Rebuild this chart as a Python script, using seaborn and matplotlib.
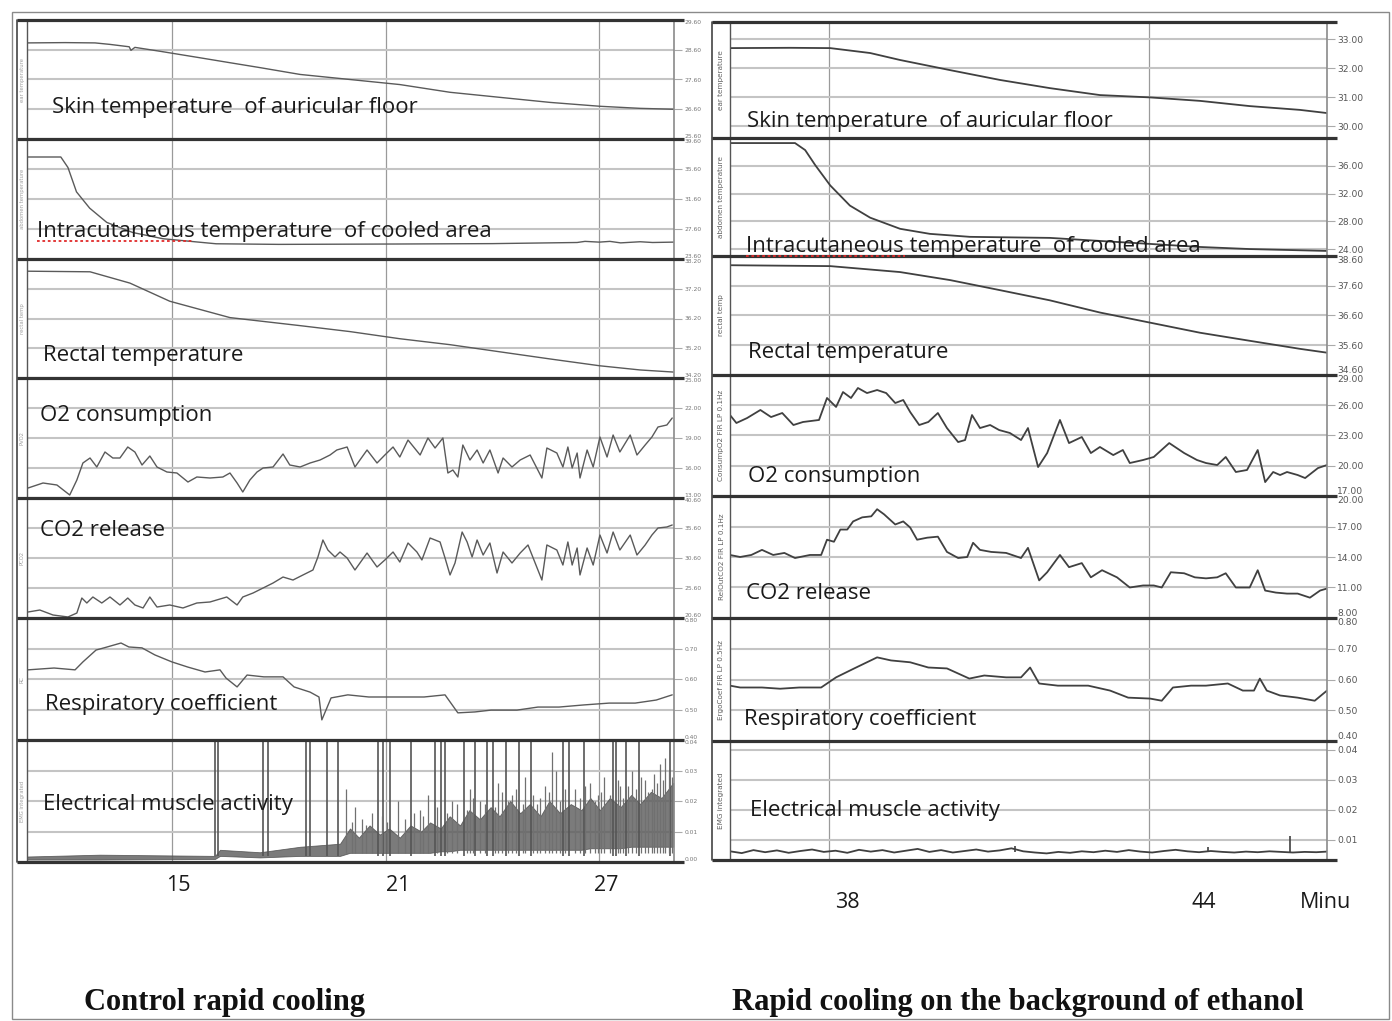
import numpy as np
import pandas as pd
import matplotlib
matplotlib.use("Agg")
import matplotlib.pyplot as plt
import matplotlib.transforms as mtransforms
from matplotlib.patches import Rectangle
import seaborn as sns

W, H = 1392, 1021

# ------------------------------------------------------------------ data
# time in minutes, value in the unit of the row
left_ear = [(10.93, 28.83), (12.0, 28.84), (12.84, 28.83), (13.26, 28.78), (13.8, 28.7),
            (13.85, 28.58), (13.96, 28.68), (14.66, 28.55), (15.79, 28.33), (16.6, 28.17),
            (17.47, 28.0), (18.6, 27.77), (20.0, 27.6), (21.4, 27.43), (22.81, 27.17),
            (24.21, 27.0), (25.62, 26.83), (27.02, 26.7), (28.15, 26.63), (29.08, 26.6)]
left_abd = [(10.93, 37.2), (11.88, 37.2), (12.08, 35.8), (12.32, 32.55), (12.69, 30.38),
            (13.17, 28.48), (13.9, 27.13), (14.75, 26.3), (16.24, 25.63), (18.0, 25.55),
            (21.4, 25.6), (24.0, 25.65), (26.38, 25.8), (26.6, 25.95), (27.0, 25.85),
            (27.3, 25.95), (27.6, 25.75), (28.15, 25.9), (28.5, 25.8), (29.08, 25.85)]
left_rect = [(10.93, 37.79), (12.7, 37.77), (13.82, 37.39), (14.94, 36.78), (16.63, 36.23),
             (18.6, 35.96), (20.0, 35.76), (21.4, 35.52), (22.81, 35.32), (24.21, 35.08),
             (25.62, 34.84), (27.02, 34.61), (28.15, 34.47), (29.08, 34.4)]
left_o2 = [(10.96, 14.0), (11.38, 14.5), (11.77, 14.3), (12.13, 13.3), (12.33, 14.8),
           (12.5, 16.5), (12.70, 17.0), (12.89, 16.1), (13.12, 17.6), (13.34, 17.0),
           (13.54, 17.0), (13.76, 18.1), (13.96, 17.6), (14.16, 16.3), (14.38, 17.2),
           (14.58, 16.1), (14.86, 15.6), (15.14, 15.5), (15.45, 14.6), (15.70, 15.1),
           (16.07, 15.0), (16.43, 15.1), (16.63, 15.5), (16.83, 14.5), (16.99, 13.6),
           (17.19, 14.8), (17.39, 15.6), (17.56, 16.0), (17.84, 16.1), (18.12, 17.4),
           (18.31, 16.3), (18.60, 16.1), (18.88, 16.5), (19.16, 16.8), (19.44, 17.3),
           (19.63, 17.8), (19.92, 18.1), (20.14, 16.1), (20.48, 17.8), (20.76, 16.5),
           (20.98, 17.3), (21.21, 18.1), (21.40, 17.1), (21.63, 18.8), (21.97, 17.3),
           (22.19, 19.0), (22.39, 18.0), (22.61, 19.0), (22.75, 15.5), (22.89, 15.8),
           (23.03, 15.1), (23.17, 18.3), (23.37, 16.8), (23.57, 17.8), (23.74, 16.5),
           (23.93, 17.8), (24.16, 15.5), (24.30, 17.0), (24.55, 16.1), (24.78, 16.8),
           (25.06, 17.3), (25.39, 15.0), (25.53, 18.0), (25.81, 17.5), (25.98, 16.1),
           (26.12, 18.1), (26.24, 16.0), (26.38, 17.5), (26.46, 15.0), (26.66, 17.8),
           (26.83, 16.1), (27.02, 19.1), (27.22, 17.1), (27.39, 19.3), (27.58, 17.6),
           (27.87, 19.3), (28.06, 17.3), (28.29, 18.3), (28.48, 19.1), (28.65, 20.1),
           (28.90, 20.3), (29.05, 21.0)]
left_co2 = [(10.96, 21.6), (11.29, 21.93), (11.66, 21.1), (12.08, 20.77), (12.33, 21.43),
            (12.47, 23.93), (12.61, 23.1), (12.78, 24.1), (13.03, 23.1), (13.26, 24.1),
            (13.54, 22.77), (13.76, 23.93), (13.96, 22.77), (14.19, 22.27), (14.38, 24.1),
            (14.58, 22.43), (14.94, 22.77), (15.31, 22.27), (15.70, 23.1), (16.07, 23.27),
            (16.54, 24.1), (16.83, 22.77), (16.99, 24.1), (17.28, 24.77), (17.56, 25.6),
            (17.84, 26.43), (18.12, 27.43), (18.40, 26.93), (18.68, 27.77), (18.96, 28.6),
            (19.10, 30.77), (19.24, 33.6), (19.38, 31.93), (19.58, 30.77), (19.72, 31.6),
            (19.92, 30.6), (20.14, 28.6), (20.48, 31.43), (20.76, 29.1), (20.98, 30.27),
            (21.21, 31.6), (21.40, 29.93), (21.63, 33.1), (21.88, 31.6), (22.02, 30.27),
            (22.25, 33.93), (22.53, 33.27), (22.67, 30.6), (22.81, 27.77), (22.95, 29.77),
            (23.15, 34.93), (23.29, 33.27), (23.43, 30.77), (23.57, 33.6), (23.74, 31.1),
            (23.93, 33.1), (24.13, 28.1), (24.30, 31.6), (24.55, 29.77), (24.78, 31.43),
            (25.0, 32.77), (25.39, 26.93), (25.53, 32.77), (25.81, 31.93), (25.98, 29.43),
            (26.12, 33.27), (26.24, 29.43), (26.38, 32.27), (26.46, 27.77), (26.66, 32.27),
            (26.83, 29.43), (27.02, 34.43), (27.22, 31.43), (27.39, 34.93), (27.58, 31.93),
            (27.87, 34.43), (28.06, 31.1), (28.29, 32.77), (28.48, 34.43), (28.65, 35.6),
            (28.90, 35.77), (29.05, 36.1)]
left_rc = [(10.96, 0.630), (11.69, 0.636), (12.28, 0.630), (12.5, 0.656), (12.87, 0.695),
           (13.09, 0.702), (13.57, 0.718), (13.79, 0.705), (14.16, 0.702), (14.52, 0.679),
           (15.0, 0.656), (15.45, 0.639), (15.93, 0.623), (16.35, 0.630), (16.52, 0.603),
           (16.83, 0.574), (17.11, 0.613), (17.58, 0.607), (18.12, 0.607), (18.43, 0.574),
           (18.88, 0.557), (19.13, 0.541), (19.21, 0.466), (19.47, 0.538), (19.94, 0.548),
           (20.53, 0.541), (21.38, 0.541), (22.08, 0.541), (22.67, 0.548), (23.03, 0.489),
           (23.51, 0.492), (23.96, 0.498), (24.69, 0.498), (25.28, 0.508), (25.87, 0.508),
           (26.57, 0.515), (27.28, 0.521), (28.01, 0.521), (28.60, 0.531), (29.05, 0.548)]
# integrated EMG: noise band (time, low, high) and spikes (time, height)
left_emg_band = [(10.93, 0.0008, 0.0018), (12.98, 0.0008, 0.0024), (16.21, 0.0010, 0.0020),
                 (16.35, 0.0020, 0.0040), (17.47, 0.0015, 0.0032), (18.6, 0.0020, 0.0050),
                 (19.72, 0.002, 0.006), (20.0, 0.003, 0.011), (20.25, 0.003, 0.008),
                 (20.55, 0.003, 0.012), (20.84, 0.003, 0.009), (21.1, 0.003, 0.011),
                 (21.4, 0.003, 0.008), (21.7, 0.003, 0.012), (22.0, 0.003, 0.010),
                 (22.25, 0.003, 0.013), (22.55, 0.0035, 0.011), (22.8, 0.0035, 0.015),
                 (23.09, 0.004, 0.012), (23.35, 0.004, 0.017), (23.65, 0.004, 0.014),
                 (23.95, 0.004, 0.018), (24.2, 0.004, 0.015), (24.5, 0.004, 0.020),
                 (24.78, 0.004, 0.016), (25.05, 0.004, 0.019), (25.35, 0.004, 0.015),
                 (25.6, 0.004, 0.020), (25.9, 0.004, 0.016), (26.2, 0.004, 0.019),
                 (26.5, 0.004, 0.017), (26.75, 0.0045, 0.021), (27.02, 0.0045, 0.017),
                 (27.3, 0.0045, 0.021), (27.6, 0.0045, 0.018), (27.9, 0.005, 0.022),
                 (28.15, 0.005, 0.019), (28.45, 0.005, 0.023), (28.75, 0.005, 0.021),
                 (29.08, 0.005, 0.026)]
left_emg_tall = [16.20, 16.30, 17.56, 17.70, 18.76, 18.88, 19.35, 19.66, 20.79, 20.93,
                 21.12, 21.71, 22.39, 22.56, 22.67, 23.20, 23.51, 23.85, 24.02, 24.38,
                 24.75, 25.08, 25.98, 26.15, 26.57, 27.39, 27.47, 27.75, 28.12, 28.99]
left_emg_mid = [(19.89, 0.024), (20.14, 0.018), (20.34, 0.014), (20.62, 0.016), (21.35, 0.020),
                (21.97, 0.017), (22.19, 0.022), (22.87, 0.020), (23.37, 0.024), (23.65, 0.020),
                (24.16, 0.026), (24.55, 0.022), (24.92, 0.028), (25.34, 0.021), (25.48, 0.025),
                (25.67, 0.036), (25.79, 0.030), (26.32, 0.024), (26.74, 0.026), (26.97, 0.022),
                (27.13, 0.028), (27.58, 0.025), (27.92, 0.030), (28.29, 0.027), (28.48, 0.024),
                (28.71, 0.032), (28.85, 0.034),
                (20.05, 0.013), (20.45, 0.012), (20.90, 0.015), (21.05, 0.013), (21.55, 0.014),
                (21.80, 0.016), (22.05, 0.015), (22.45, 0.018), (22.72, 0.016), (23.00, 0.019),
                (23.28, 0.017), (23.45, 0.021), (23.80, 0.019), (24.08, 0.018), (24.28, 0.023),
                (24.45, 0.020), (24.65, 0.024), (24.85, 0.019), (25.15, 0.022), (25.25, 0.019),
                (25.58, 0.023), (25.90, 0.020), (26.05, 0.024), (26.45, 0.021), (26.60, 0.025),
                (26.88, 0.020), (27.05, 0.023), (27.30, 0.022), (27.52, 0.027), (27.68, 0.021),
                (27.82, 0.025), (28.02, 0.024), (28.18, 0.028), (28.38, 0.023), (28.55, 0.029),
                (28.62, 0.026), (28.78, 0.027), (28.95, 0.030), (29.05, 0.028)]

right_ear = [(36.14, 32.70), (37.27, 32.71), (38.02, 32.70), (38.77, 32.53), (39.33, 32.29),
             (40.27, 31.94), (41.21, 31.6), (42.14, 31.32), (43.08, 31.08), (44.02, 31.0),
             (44.96, 30.88), (45.89, 30.7), (46.83, 30.57), (47.34, 30.46)]
right_abd = [(36.14, 39.27), (37.36, 39.27), (37.55, 38.26), (37.74, 36.08), (38.02, 33.17),
             (38.39, 30.26), (38.77, 28.52), (39.33, 26.92), (39.89, 26.19), (40.64, 25.76),
             (42.14, 25.61), (43.08, 25.17), (44.02, 24.74), (44.96, 24.3), (45.89, 24.0),
             (47.34, 23.73)]
right_rect = [(36.14, 38.29), (38.02, 38.26), (39.33, 38.06), (40.27, 37.79), (41.21, 37.45),
              (42.14, 37.11), (43.08, 36.7), (44.02, 36.36), (44.96, 36.02), (45.89, 35.75),
              (46.83, 35.48), (47.34, 35.35)]
right_o2 = [(36.14, 25.03), (36.26, 24.24), (36.46, 24.73), (36.71, 25.53), (36.91, 24.83),
            (37.12, 25.23), (37.33, 24.04), (37.51, 24.34), (37.81, 24.54), (37.96, 26.72),
            (38.13, 25.83), (38.26, 27.31), (38.41, 26.72), (38.54, 27.71), (38.71, 27.21),
            (38.90, 27.51), (39.07, 27.21), (39.24, 26.22), (39.39, 26.52), (39.52, 25.33),
            (39.69, 24.04), (39.86, 24.34), (40.04, 25.23), (40.21, 23.74), (40.42, 22.35),
            (40.55, 22.55), (40.68, 25.03), (40.83, 23.74), (41.02, 24.04), (41.19, 23.54),
            (41.39, 23.25), (41.60, 22.55), (41.73, 23.74), (41.92, 19.87), (42.09, 21.26),
            (42.22, 23.05), (42.33, 24.54), (42.50, 22.25), (42.74, 22.85), (42.91, 21.26),
            (43.08, 21.86), (43.33, 21.06), (43.51, 21.56), (43.64, 20.27), (43.89, 20.57),
            (44.09, 20.87), (44.38, 22.25), (44.66, 21.26), (44.90, 20.57), (45.07, 20.27),
            (45.28, 20.07), (45.44, 20.87), (45.63, 19.38), (45.84, 19.58), (46.04, 21.56),
            (46.18, 18.38), (46.33, 19.38), (46.46, 19.08), (46.59, 19.38), (46.79, 19.08),
            (46.93, 18.78), (47.17, 19.77), (47.34, 20.07)]
right_co2 = [(36.14, 14.2), (36.33, 14.0), (36.54, 14.2), (36.74, 14.7), (36.95, 14.2),
             (37.16, 14.4), (37.36, 13.9), (37.64, 14.2), (37.85, 14.2), (37.96, 15.7),
             (38.09, 15.5), (38.21, 16.7), (38.34, 16.7), (38.45, 17.5), (38.62, 17.9),
             (38.79, 18.0), (38.90, 18.7), (39.03, 18.2), (39.24, 17.2), (39.39, 17.5),
             (39.52, 16.9), (39.65, 15.7), (39.84, 15.9), (40.04, 16.0), (40.21, 14.5),
             (40.42, 13.9), (40.59, 14.0), (40.70, 15.4), (40.83, 14.7), (41.04, 14.5),
             (41.32, 14.4), (41.60, 13.9), (41.73, 14.9), (41.94, 11.7), (42.09, 12.5),
             (42.33, 14.2), (42.50, 13.0), (42.74, 13.4), (42.91, 12.0), (43.12, 12.7),
             (43.40, 12.0), (43.64, 11.0), (43.89, 11.2), (44.09, 11.2), (44.24, 11.0),
             (44.41, 12.5), (44.66, 12.4), (44.86, 12.0), (45.07, 11.9), (45.28, 12.0),
             (45.44, 12.4), (45.63, 11.0), (45.89, 11.0), (46.04, 12.7), (46.18, 10.7),
             (46.38, 10.5), (46.59, 10.4), (46.79, 10.4), (47.02, 10.0), (47.21, 10.7),
             (47.34, 10.9)]
right_rc = [(36.14, 0.580), (36.33, 0.574), (36.74, 0.574), (37.08, 0.570), (37.44, 0.574),
            (37.85, 0.574), (38.13, 0.607), (38.47, 0.636), (38.90, 0.672), (39.16, 0.662),
            (39.52, 0.656), (39.86, 0.639), (40.21, 0.636), (40.63, 0.603), (40.91, 0.613),
            (41.32, 0.607), (41.60, 0.607), (41.77, 0.639), (41.94, 0.587), (42.29, 0.580),
            (42.86, 0.580), (43.27, 0.564), (43.61, 0.541), (44.02, 0.538), (44.24, 0.531),
            (44.45, 0.574), (44.79, 0.580), (45.07, 0.580), (45.48, 0.587), (45.76, 0.564),
            (45.97, 0.564), (46.08, 0.603), (46.21, 0.564), (46.46, 0.548), (46.79, 0.541),
            (47.11, 0.531), (47.34, 0.564)]
right_emg = [(36.14, 0.0062), (36.36, 0.0056), (36.58, 0.0066), (36.80, 0.0059), (37.02, 0.0065),
             (37.24, 0.0057), (37.46, 0.0063), (37.68, 0.0068), (37.90, 0.0060), (38.12, 0.0064),
             (38.34, 0.0057), (38.56, 0.0067), (38.78, 0.0061), (39.00, 0.0066), (39.22, 0.0058),
             (39.44, 0.0064), (39.66, 0.0070), (39.88, 0.0060), (40.10, 0.0066), (40.32, 0.0058),
             (40.54, 0.0063), (40.76, 0.0068), (40.98, 0.0061), (41.20, 0.0065), (41.42, 0.0072),
             (41.64, 0.0062), (41.86, 0.0058), (42.08, 0.0055), (42.30, 0.0060), (42.52, 0.0057),
             (42.74, 0.0062), (42.96, 0.0059), (43.18, 0.0064), (43.40, 0.0060), (43.62, 0.0066),
             (43.84, 0.0061), (44.06, 0.0058), (44.28, 0.0063), (44.50, 0.0067), (44.72, 0.0062),
             (44.94, 0.0059), (45.16, 0.0063), (45.38, 0.0060), (45.60, 0.0058), (45.82, 0.0061),
             (46.04, 0.0059), (46.26, 0.0062), (46.48, 0.0060), (46.70, 0.0058), (46.92, 0.0060),
             (47.14, 0.0059), (47.34, 0.0061)]
right_emg_spikes = [(41.49, 0.0080), (45.10, 0.0075), (46.64, 0.0113)]

left_ylims = [(25.6, 29.6), (23.6, 39.6), (34.2, 38.2), (13.0, 25.0), (20.6, 40.6), (0.40, 0.80), (0.0, 0.04)]
left_yticks = [[25.6, 26.6, 27.6, 28.6, 29.6], [23.6, 27.6, 31.6, 35.6, 39.6],
               [34.2, 35.2, 36.2, 37.2, 38.2], [13, 16, 19, 22, 25], [20.6, 25.6, 30.6, 35.6, 40.6],
               [0.4, 0.5, 0.6, 0.7, 0.8], [0.0, 0.01, 0.02, 0.03, 0.04]]
right_ylims = [(29.6, 33.6), (23.0, 40.0), (34.6, 38.6), (17.0, 29.0), (8.0, 20.0), (0.40, 0.80), (0.0033, 0.043)]
right_yticks = [[30, 31, 32, 33], [24, 28, 32, 36], [34.6, 35.6, 36.6, 37.6, 38.6],
                [17, 20, 23, 26, 29], [8, 11, 14, 17, 20], [0.4, 0.5, 0.6, 0.7, 0.8],
                [0.01, 0.02, 0.03, 0.04]]

row_names = ["Skin temperature  of auricular floor", "Intracutaneous temperature  of cooled area",
             "Rectal temperature", "O2 consumption", "CO2 release", "Respiratory coefficient",
             "Electrical muscle activity"]
left_channels = ["ear temperature", "abdomen temperature", "rectal temp", "PVO2", "PCO2", "RC", "EMG integrated"]
right_channels = ["ear temperature", "abdomen temperature", "rectal temp", "ConsumpO2 FIR LP 0.1Hz",
                  "RelOutCO2 FIR LP 0.1Hz", "ErgoCoef FIR LP 0.5Hz", "EMG integrated"]
left_grid_times = [15, 21, 27]
left_tick_labels = ["15", "21", "27"]
left_tick_pos = [15.17, 21.35, 27.19]
right_grid_times = [38, 44]
right_tick_labels = ["38", "44", "Minu"]
right_tick_pos = [38.34, 45.03, 47.32]
titles = ["Control rapid cooling", "Rapid cooling on the background of ethanol"]

# ------------------------------------------------------------------ style
sns.set_theme(style="white")
plt.rcParams['font.family'] = ['Open Sans', 'DejaVu Sans']

fig = plt.figure(figsize=(W / 100, H / 100), dpi=100)
fig.patch.set_facecolor("white")


def rect(x0, y0, x1, y1):
    return [x0 / W, 1 - y1 / H, (x1 - x0) / W, (y1 - y0) / H]


def frame(pairs):
    return pd.DataFrame(pairs, columns=["t", "v"])


panels = [
    dict(x0=27, x1=674, strip=17, rows=[20, 139, 259, 378, 498, 618, 740, 862], xlim=(10.93, 29.10),
         grid=left_grid_times, ylims=left_ylims, yticks=left_yticks, channels=left_channels,
         series=[left_ear, left_abd, left_rect, left_o2, left_co2, left_rc, None],
         tsize=4.3, tcolor="#777777", lcolor="#5a5a5a", lw=1.0, chsize=3.8, chcolor="#a0a0a0",
         texts=[(52, 107), (37, 231), (43, 355), (40, 415), (40, 530), (45, 704), (43, 804)],
         ticklab=(left_tick_labels, left_tick_pos, 885), squig=(37, 193, 241)),
    dict(x0=730, x1=1327, strip=712, rows=[22, 138, 256, 375, 496, 618, 741, 860], xlim=(36.14, 47.34),
         grid=right_grid_times, ylims=right_ylims, yticks=right_yticks, channels=right_channels,
         series=[right_ear, right_abd, right_rect, right_o2, right_co2, right_rc, right_emg],
         tsize=6.6, tcolor="#555555", lcolor="#404040", lw=1.3, chsize=5.2, chcolor="#606060",
         texts=[(747, 121), (746, 246), (748, 352), (748, 476), (746, 593), (744, 719), (750, 810)],
         ticklab=(right_tick_labels, right_tick_pos, 902), squig=(746, 905, 256)),
]

for pi, P in enumerate(panels):
    rows = P["rows"]
    for i in range(7):
        ax = fig.add_axes(rect(P["x0"], rows[i], P["x1"], rows[i + 1]))
        ax.patch.set_alpha(0)
        ylo, yhi = P["ylims"][i]
        data = P["series"][i]
        if data is not None:
            sns.lineplot(data=frame(data), x="t", y="v", ax=ax, color=P["lcolor"], linewidth=P["lw"],
                         estimator=None, sort=False, legend=False)
        if pi == 0 and i == 6:
            band = pd.DataFrame(left_emg_band, columns=["t", "lo", "hi"])
            ax.fill_between(band["t"], band["lo"], band["hi"], color="#5a5a5a", lw=0.6,
                            edgecolor="#4a4a4a", alpha=0.8)
            ax.vlines(left_emg_tall, 0.002, 0.05, color="#555555", lw=1.2)
            mid = frame(left_emg_mid)
            ax.vlines(mid["t"], 0.003, mid["v"], color="#707070", lw=0.9)
        if pi == 1 and i == 6:
            sp = frame(right_emg_spikes)
            ax.vlines(sp["t"], 0.006, sp["v"], color=P["lcolor"], lw=1.2)
        ax.set_xlim(*P["xlim"])
        ax.set_ylim(ylo, yhi)
        ax.set_xlabel("")
        ax.set_ylabel("")
        ticks = P["yticks"][i]
        ax.set_yticks(ticks)
        ax.set_yticklabels([f"{v:.2f}" for v in ticks])
        ax.yaxis.tick_right()
        ax.tick_params(axis="y", which="both", right=True, left=False, length=6, width=0.8,
                       color="#aaaaaa", labelsize=P["tsize"], labelcolor=P["tcolor"], pad=1.5)
        for lbl, v in zip(ax.get_yticklabels(), ticks):
            lbl.set_fontfamily("DejaVu Sans")
            if np.isclose(v, yhi):
                lbl.set_va("top")
            elif np.isclose(v, ylo):
                lbl.set_va("bottom")
        ax.set_xticks(P["grid"])
        ax.tick_params(axis="x", length=0, labelbottom=False)
        ax.grid(False)
        ax.grid(axis="y", color="#c4c4c4", lw=1.5)
        ax.grid(axis="x", color="#9a9a9a", lw=0.9)
        for s in ["top", "bottom", "left"]:
            ax.spines[s].set_visible(False)
        ax.spines["right"].set_color("#8a8a8a")
        ax.spines["right"].set_linewidth(1.2)
        if i == 6:
            labs, pos, ypx = P["ticklab"]
            trans = mtransforms.blended_transform_factory(ax.transData, fig.transFigure)
            for lab, tp in zip(labs, pos):
                ax.text(tp, 1 - ypx / H, lab, transform=trans, ha="center", va="center",
                        fontsize=15.5, color="#1a1a1a", clip_on=False)

# ------------------------------------------------------------------ overlay (frames, texts)
ov = fig.add_axes([0, 0, 1, 1], zorder=10)
ov.set_xlim(0, W)
ov.set_ylim(H, 0)
ov.axis("off")
ov.patch.set_alpha(0)
ov.add_patch(Rectangle((12, 12), 1377, 1007, fill=False, ec="#8a8a8a", lw=1.0))
for pi, P in enumerate(panels):
    rows = P["rows"]
    ov.plot([P["strip"], P["strip"]], [rows[0], rows[-1]], color="#444444", lw=1.2)
    ov.plot([P["x0"], P["x0"]], [rows[0], rows[-1]], color="#555555", lw=1.0)
    for y in rows:
        ov.plot([P["strip"], P["x1"] + 10], [y, y], color="#333333", lw=2.3, solid_capstyle="butt")
    for i in range(7):
        ov.text((P["strip"] + P["x0"]) / 2 + 0.5, (rows[i] + rows[i + 1]) / 2, P["channels"][i],
                rotation=90, ha="center", va="center", fontsize=P["chsize"], color=P["chcolor"],
                family="DejaVu Sans")
        tx, ty = P["texts"][i]
        ov.text(tx, ty, row_names[i], ha="left", va="center", fontsize=16, color="#1a1a1a")
    sx0, sx1, sy = P["squig"]
    ov.plot([sx0, sx1], [sy, sy], color="#e02a2a", lw=1.3, ls=(0, (1.5, 1.5)))

ov.text(224, 1002, titles[0], ha="center", va="center", fontsize=22, fontweight="bold",
        family="Liberation Serif", color="#111111")
ov.text(1018, 1002, titles[1], ha="center", va="center", fontsize=22, fontweight="bold",
        family="Liberation Serif", color="#111111")

fig.savefig("out.png", dpi=100, facecolor="white")
